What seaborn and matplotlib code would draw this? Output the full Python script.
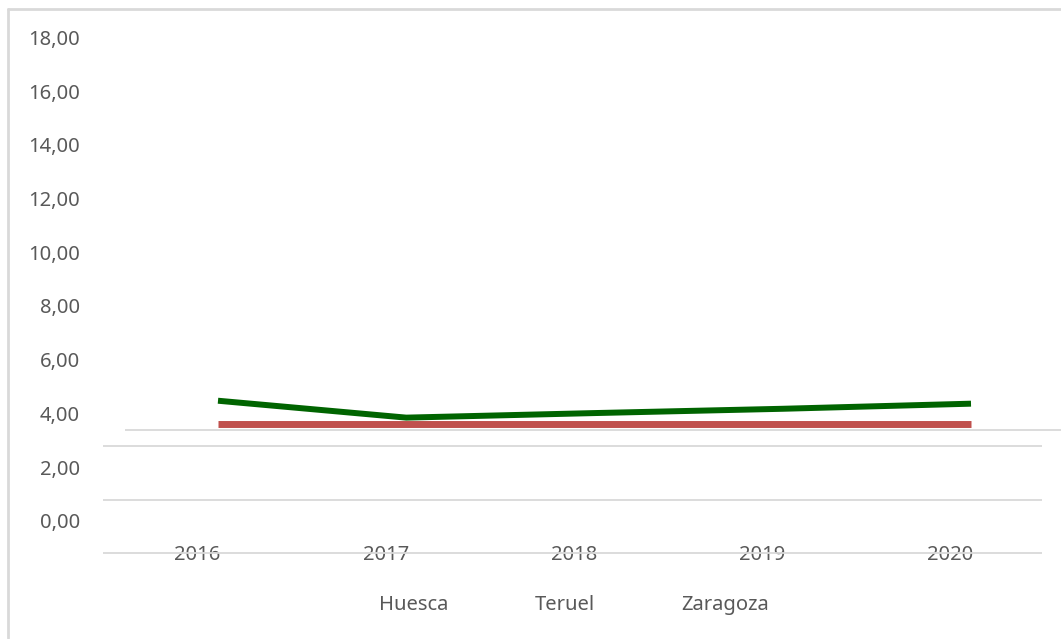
import matplotlib
matplotlib.use("Agg")
import matplotlib.pyplot as plt
import matplotlib.transforms as mtransforms
from matplotlib.lines import Line2D
import seaborn as sns
import pandas as pd

# ---- data ----
years = [2016, 2017, 2018, 2019, 2020]
serie_verde = [4.47, 3.84, 4.01, 4.17, 4.36]
serie_roja = [3.60, 3.60, 3.60, 3.60, 3.60]
legend_labels = ["Huesca", "Teruel", "Zaragoza"]
y_ticks = [0, 2, 4, 6, 8, 10, 12, 14, 16, 18]
y_tick_labels = ["0,00", "2,00", "4,00", "6,00", "8,00", "10,00", "12,00", "14,00", "16,00", "18,00"]

sns.set_theme(style="white")
plt.rcParams["font.family"] = ["Noto Sans", "DejaVu Sans"]

W, H = 1061, 639
fig = plt.figure(figsize=(W / 100, H / 100), dpi=100)
ax = fig.add_axes([0, 0, 1, 1])

df = pd.DataFrame({
    "year": years * 2,
    "value": serie_roja + serie_verde,
    "serie": ["roja"] * len(years) + ["verde"] * len(years),
})
palette = {"roja": "#C0504D", "verde": "#006400"}
sns.lineplot(data=df[df.serie == "roja"], x="year", y="value", color=palette["roja"],
             linewidth=5.0, ax=ax, legend=False, solid_capstyle="butt", zorder=3)
sns.lineplot(data=df[df.serie == "verde"], x="year", y="value", color=palette["verde"],
             linewidth=4.3, ax=ax, legend=False, solid_capstyle="butt", zorder=4)

# axis mapping (whole figure is the axes)
x0px, xstep = 218.0, 188.25
y0px, ystep = 520.7, 26.84
ax.set_xlim(years[0] - x0px / xstep, years[0] + (W - x0px) / xstep)
ax.set_ylim(-(H - y0px) / ystep, y0px / ystep)

# (misaligned) gridlines as in the reference
grid_c = "#D9D9D9"
def px2x(p):
    return years[0] + (p - x0px) / xstep
def px2y(q):
    return (y0px - q) / ystep
for q in [553.0, 499.5, 446.0]:
    ax.hlines(px2y(q), px2x(102.7), px2x(1042), color=grid_c, linewidth=1.3, zorder=1)
ax.hlines(px2y(429.5), px2x(125), px2x(W), color=grid_c, linewidth=1.3, zorder=1)

for s in ax.spines.values():
    s.set_visible(False)
ax.set_xlabel("")
ax.set_ylabel("")

text_c = "#595959"
fs = 14.5
ax.set_yticks(y_ticks)
ax.set_yticklabels(y_tick_labels, fontsize=fs, color=text_c)
ax.set_xticks(years)
ax.set_xticklabels([str(y) for y in years], fontsize=fs, color=text_c)
ax.tick_params(axis="y", length=0, pad=-80 * 0.72)
ax.tick_params(axis="x", length=0, pad=-94 * 0.72)
off = mtransforms.ScaledTranslation(-20.5 / 100, 0, fig.dpi_scale_trans)
for lab in ax.get_xticklabels():
    lab.set_transform(lab.get_transform() + off)

# legend (text-only entries, as rendered in the reference)
handles = [Line2D([], [], linewidth=0, color="none") for _ in legend_labels]
leg = fig.legend(handles, legend_labels, loc="center", bbox_to_anchor=(574 / W, 1 - 605 / H),
                 ncol=3, frameon=False, handlelength=0, handletextpad=0,
                 columnspacing=86 / (fs / 0.72), fontsize=fs)
for t in leg.get_texts():
    t.set_color(text_c)

# outer chart border
bc = "#D9D9D9"
fig.add_artist(Line2D([8 / W, 8 / W], [1 - 8.5 / H, 1 - 638 / H], color=bc, linewidth=2.0,
                      transform=fig.transFigure))
fig.add_artist(Line2D([8 / W, 1.0], [1 - 8.5 / H, 1 - 8.5 / H], color=bc, linewidth=2.0,
                      transform=fig.transFigure))

fig.savefig("out.png", dpi=100)
